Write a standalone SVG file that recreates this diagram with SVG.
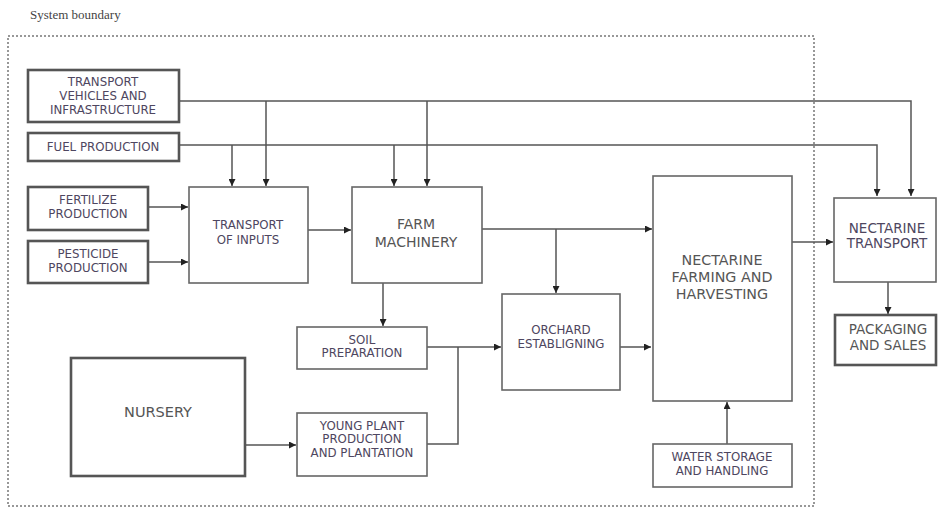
<svg xmlns="http://www.w3.org/2000/svg" width="939" height="509" viewBox="0 0 939 509">
<defs>
<marker id="ah" viewBox="0 0 10 10" refX="10" refY="5" markerWidth="7" markerHeight="7" markerUnits="userSpaceOnUse" orient="auto">
<path d="M0,0 L10,5 L0,10 z" fill="#222"/>
</marker>
<style>
.box{fill:#fff;stroke:#666;stroke-width:1.6}
.thick{fill:#fff;stroke:#555;stroke-width:2.6}
.ln{fill:none;stroke:#555;stroke-width:1.5}
.t{font-family:"DejaVu Sans",Verdana,sans-serif;font-size:11.8px;fill:#4e4660;text-anchor:middle}
.m{font-size:14px;fill:#555}
.n{font-size:13.5px;fill:#4e4660}
.l{font-size:14.3px;fill:#555}
</style>
</defs>
<rect width="939" height="509" fill="#fff"/>
<text x="30" y="19" font-family="Liberation Serif, serif" font-size="13" fill="#444">System boundary</text>
<rect x="8" y="36" width="806" height="470" fill="none" stroke="#777" stroke-width="1.5" stroke-dasharray="2,2"/>
<g id="connectors">
<path class="ln" d="M179,101 H911 V196" marker-end="url(#ah)"/>
<path class="ln" d="M266,101 V186" marker-end="url(#ah)"/>
<path class="ln" d="M427,101 V186" marker-end="url(#ah)"/>
<path class="ln" d="M179,145 H877 V196" marker-end="url(#ah)"/>
<path class="ln" d="M232,145 V186" marker-end="url(#ah)"/>
<path class="ln" d="M394,145 V186" marker-end="url(#ah)"/>
<path class="ln" d="M148,207 H188" marker-end="url(#ah)"/>
<path class="ln" d="M148,262 H188" marker-end="url(#ah)"/>
<path class="ln" d="M308,230 H351" marker-end="url(#ah)"/>
<path class="ln" d="M482,229 H652" marker-end="url(#ah)"/>
<path class="ln" d="M556,229 V293" marker-end="url(#ah)"/>
<path class="ln" d="M383,283 V326" marker-end="url(#ah)"/>
<path class="ln" d="M427,347 H501" marker-end="url(#ah)"/>
<path class="ln" d="M427,444 H458 V347"/>
<path class="ln" d="M245,445 H296" marker-end="url(#ah)"/>
<path class="ln" d="M620,347 H651" marker-end="url(#ah)"/>
<path class="ln" d="M727,444 V402" marker-end="url(#ah)"/>
<path class="ln" d="M792,242 H833" marker-end="url(#ah)"/>
<path class="ln" d="M888,282 V314" marker-end="url(#ah)"/>
</g>
<g id="transport-vehicles">
<rect class="thick" x="28" y="70" width="151" height="52"/>
<text class="t"><tspan x="103" y="86">TRANSPORT</tspan><tspan x="103" y="100">VEHICLES AND</tspan><tspan x="103" y="114">INFRASTRUCTURE</tspan></text>
</g>
<g id="fuel-production">
<rect class="thick" x="28" y="133" width="151" height="28"/>
<text class="t" x="103" y="151">FUEL PRODUCTION</text>
</g>
<g id="fertilize-production">
<rect class="thick" x="28" y="187" width="120" height="43"/>
<text class="t"><tspan x="88" y="204">FERTILIZE</tspan><tspan x="88" y="218">PRODUCTION</tspan></text>
</g>
<g id="pesticide-production">
<rect class="thick" x="28" y="241" width="120" height="42"/>
<text class="t"><tspan x="88" y="258">PESTICIDE</tspan><tspan x="88" y="272">PRODUCTION</tspan></text>
</g>
<g id="transport-inputs">
<rect class="box" x="189" y="187" width="119" height="96"/>
<text class="t"><tspan x="248" y="229">TRANSPORT</tspan><tspan x="248" y="244">OF INPUTS</tspan></text>
</g>
<g id="farm-machinery">
<rect class="box" x="352" y="187" width="130" height="96"/>
<text class="t m"><tspan x="416" y="229">FARM</tspan><tspan x="416" y="247">MACHINERY</tspan></text>
</g>
<g id="soil-preparation">
<rect class="box" x="297" y="327" width="130" height="42"/>
<text class="t"><tspan x="362" y="344">SOIL</tspan><tspan x="362" y="357">PREPARATION</tspan></text>
</g>
<g id="young-plant">
<rect class="box" x="297" y="413" width="130" height="63"/>
<text class="t"><tspan x="362" y="430">YOUNG PLANT</tspan><tspan x="362" y="443">PRODUCTION</tspan><tspan x="362" y="457">AND PLANTATION</tspan></text>
</g>
<g id="nursery">
<rect class="thick" x="71" y="358" width="174" height="118"/>
<text class="t m" style="font-size:14.5px" x="158" y="417">NURSERY</text>
</g>
<g id="orchard">
<rect class="box" x="502" y="294" width="118" height="96"/>
<text class="t"><tspan x="561" y="334">ORCHARD</tspan><tspan x="561" y="348">ESTABLIGNING</tspan></text>
</g>
<g id="nectarine-farming">
<rect class="box" x="653" y="176" width="139" height="225"/>
<text class="t l"><tspan x="722" y="265">NECTARINE</tspan><tspan x="722" y="282">FARMING AND</tspan><tspan x="722" y="299">HARVESTING</tspan></text>
</g>
<g id="water-storage">
<rect class="box" x="653" y="444" width="139" height="43"/>
<text class="t"><tspan x="722" y="461">WATER STORAGE</tspan><tspan x="722" y="475">AND HANDLING</tspan></text>
</g>
<g id="nectarine-transport">
<rect class="box" x="834" y="198" width="102" height="84"/>
<text class="t n"><tspan x="887" y="233">NECTARINE</tspan><tspan x="887" y="248">TRANSPORT</tspan></text>
</g>
<g id="packaging-sales">
<rect class="thick" x="835" y="315" width="101" height="50"/>
<text class="t n" style="fill:#555"><tspan x="888" y="334">PACKAGING</tspan><tspan x="888" y="350">AND SALES</tspan></text>
</g>
</svg>
